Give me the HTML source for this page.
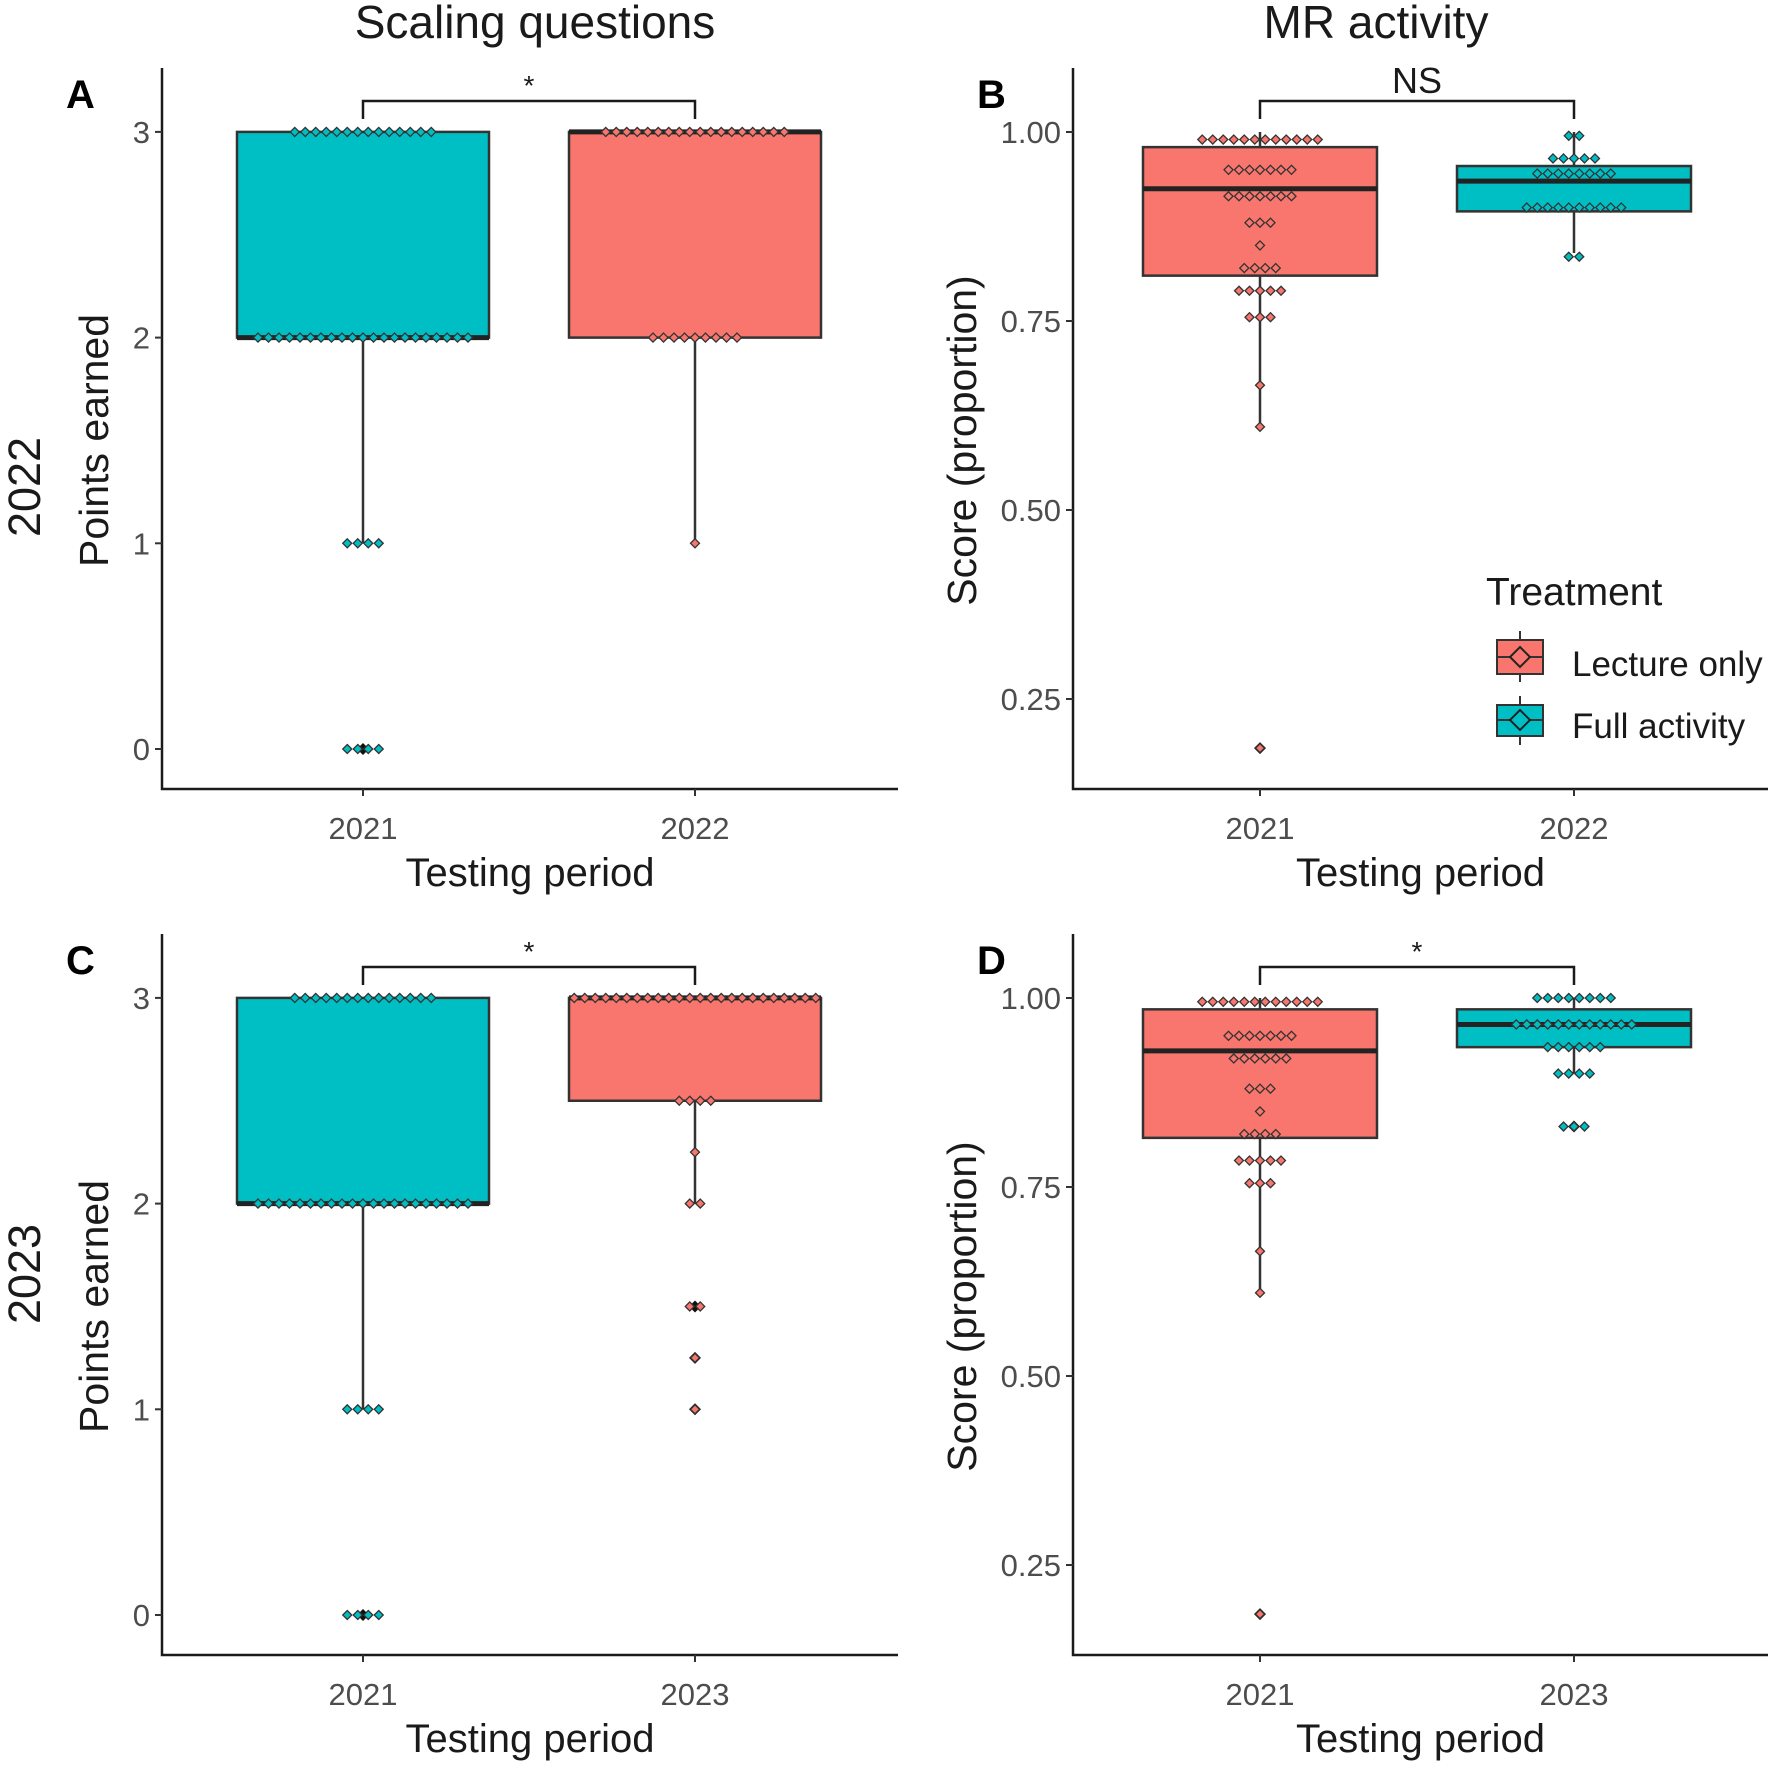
<!DOCTYPE html>
<html><head><meta charset="utf-8"><style>
html,body{margin:0;padding:0;background:#fff}
svg{display:block}
text{font-family:"Liberation Sans",Arial,sans-serif}
</style></head><body>
<svg id="fig" width="1772" height="1765" viewBox="0 0 1772 1765" xmlns="http://www.w3.org/2000/svg">
<text x="535" y="38" font-size="46" text-anchor="middle" fill="#1a1a1a">Scaling questions</text>
<text x="1376" y="38" font-size="46" text-anchor="middle" fill="#1a1a1a">MR activity</text>
<text transform="translate(40,487) rotate(-90)" font-size="45" text-anchor="middle" fill="#1a1a1a">2022</text>
<text transform="translate(40,1274) rotate(-90)" font-size="45" text-anchor="middle" fill="#1a1a1a">2023</text>
<g id="legend">
<text x="1486" y="605" font-size="39" fill="#1a1a1a">Treatment</text>
<g>
<line x1="1520" y1="631" x2="1520" y2="682" stroke="#333" stroke-width="2"/>
<rect x="1497" y="640" width="46" height="34" fill="#F8766D" stroke="#333" stroke-width="2"/>
<line x1="1497" y1="657" x2="1543" y2="657" stroke="#333" stroke-width="2"/>
<path d="M1520 647 L1530 657 L1520 667 L1510 657 Z" fill="#F8766D" stroke="#222" stroke-width="2"/>
<text x="1572" y="676" font-size="35" fill="#1a1a1a">Lecture only</text></g>
<g>
<line x1="1520" y1="696" x2="1520" y2="745" stroke="#333" stroke-width="2"/>
<rect x="1497" y="705" width="46" height="31" fill="#00BFC4" stroke="#333" stroke-width="2"/>
<line x1="1497" y1="720" x2="1543" y2="720" stroke="#333" stroke-width="2"/>
<path d="M1520 710 L1530 720 L1520 730 L1510 720 Z" fill="#00BFC4" stroke="#222" stroke-width="2"/>
<text x="1572" y="738" font-size="35" fill="#1a1a1a">Full activity</text></g>
</g>
</svg>
<script>
// ---- data ----
const panelLetters = ["A","B","C","D"];
const catsA = ["2021","2022"];
const catsB = ["2021","2022"];
const catsC = ["2021","2023"];
const catsD = ["2021","2023"];
const ticksPoints = [0,1,2,3];
const ticksScore = [0.25,0.50,0.75,1.00];
const sigLabels = ["*","NS","*","*"];
// box stats: [lowWhisker, q1, median, q3, highWhisker]
const boxA = [[1,2,2,3,3],[1,2,3,3,3]];
const boxB = [[0.61,0.81,0.925,0.98,1.0],[0.84,0.895,0.935,0.955,1.0]];
const boxC = [[1,2,2,3,3],[2,2.5,3,3,3]];
const boxD = [[0.61,0.815,0.93,0.985,1.0],[0.9,0.935,0.965,0.985,1.0]];
// dot values and counts per group
const dotValsA1 = [3,2,1,0];           const dotCntA1 = [14,21,4,4];
const dotValsA2 = [3,2,1];             const dotCntA2 = [18,9,1];
const dotValsB1 = [0.99,0.95,0.915,0.88,0.85,0.82,0.79,0.755,0.665,0.61,0.185]; const dotCntB1 = [12,7,7,3,1,4,5,3,1,1,1];
const dotValsB2 = [0.995,0.965,0.945,0.9,0.835]; const dotCntB2 = [2,5,8,10,2];
const dotValsC1 = [3,2,1,0];           const dotCntC1 = [14,21,4,4];
const dotValsC2 = [3,2.5,2.25,2,1.5,1.25,1]; const dotCntC2 = [24,4,1,2,2,1,1];
const dotValsD1 = [0.995,0.95,0.92,0.88,0.85,0.82,0.785,0.755,0.665,0.61,0.185]; const dotCntD1 = [12,7,6,3,1,4,5,3,1,1,1];
const dotValsD2 = [1.0,0.965,0.935,0.9,0.83]; const dotCntD2 = [8,12,6,4,3];
const outA = [[0],[]], outB=[[0.185],[]], outC=[[0],[1.5,1.25,1]], outD=[[0.185],[0.83]];

const NS="http://www.w3.org/2000/svg";
const svg=document.getElementById('fig');
function mk(tag,attrs,parent){const e=document.createElementNS(NS,tag);for(const k in attrs)e.setAttribute(k,attrs[k]);(parent||svg).appendChild(e);return e;}
const COLS=["#00BFC4","#F8766D"];
function panel(cfg){
  const g=mk('g',{});
  
  
  const y=v=>cfg.y0+(v-cfg.v0)*cfg.k;
  const xs=cfg.xc;
  const ax=mk('path',{d:`M${cfg.ax} ${cfg.top} V${cfg.bot} H${cfg.right}`,fill:'none',stroke:'#1a1a1a','stroke-width':2.5},g);
  
  
  cfg.ticks.forEach(t=>{
    mk('line',{x1:cfg.ax-7,x2:cfg.ax,y1:y(t),y2:y(t),stroke:'#333','stroke-width':2},g);
    const tl=mk('text',{x:cfg.ax-12,y:y(t)+11,'font-size':31,'text-anchor':'end',fill:'#4d4d4d'},g);
    tl.textContent=cfg.fmt(t);
    
    
  });
  cfg.cats.forEach((c,i)=>{
    mk('line',{x1:xs[i],x2:xs[i],y1:cfg.bot,y2:cfg.bot+7,stroke:'#333','stroke-width':2},g);
    const tl=mk('text',{x:xs[i],y:cfg.bot+50,'font-size':31,'text-anchor':'middle',fill:'#4d4d4d'},g);
    tl.textContent=c;
    
    
  });
  const xt=mk('text',{x:(cfg.ax+cfg.right)/2,y:cfg.bot+97,'font-size':40,'text-anchor':'middle',fill:'#1a1a1a'},g);
  xt.textContent='Testing period';
  
  
  const yt=mk('text',{transform:`translate(${cfg.ylabX},${(cfg.top+cfg.bot)/2+12}) rotate(-90)`,'font-size':41,'text-anchor':'middle',fill:'#1a1a1a'},g);
  yt.textContent=cfg.ylab;
  
  
  const pl=mk('text',{x:cfg.ax-96,y:cfg.top+40,'font-size':40,'font-weight':'bold',fill:'#000'},g);
  pl.textContent=cfg.letter;
  
  
  cfg.box.forEach((b,i)=>{
    const col=cfg.colors[i], hw=cfg.hw;
    mk('line',{x1:xs[i],x2:xs[i],y1:y(b[0]),y2:y(b[4]),stroke:'#333','stroke-width':2.5},g);
    const r=mk('rect',{x:xs[i]-hw,y:y(b[3]),width:2*hw,height:y(b[1])-y(b[3]),fill:col,stroke:'#333','stroke-width':2.5},g);
    
    
    mk('line',{x1:xs[i]-hw,x2:xs[i]+hw,y1:y(b[2]),y2:y(b[2]),stroke:'#222','stroke-width':5},g);
    cfg.out[i].forEach(o=>{
      const c=mk('path',{d:`M${xs[i]} ${y(o)-6} L${xs[i]+6} ${y(o)} L${xs[i]} ${y(o)+6} L${xs[i]-6} ${y(o)} Z`,fill:'#111'},g);
      
      
    });
    const vals=cfg.dv[i], cnts=cfg.dc[i];
    vals.forEach((v,j)=>{
      const n=cnts[j], sp=10.5;
      for(let m=0;m<n;m++){
        const cx=xs[i]+(m-(n-1)/2)*sp, cy=y(v);
        const d=mk('path',{d:`M${cx} ${cy-4.5} L${cx+4.5} ${cy} L${cx} ${cy+4.5} L${cx-4.5} ${cy} Z`,fill:col,stroke:'#333','stroke-width':1.3},g);
        
        
      }
    });
  });
  const by=cfg.top+33;
  const br=mk('path',{d:`M${xs[0]} ${by+18} V${by} H${xs[1]} V${by+18}`,fill:'none',stroke:'#1a1a1a','stroke-width':2.5},g);
  
  
  const sl=mk('text',{x:(xs[0]+xs[1])/2,y:by-(cfg.sig==='NS'?8:6),'font-size':cfg.sig==='NS'?36:28,'text-anchor':'middle',fill:'#1a1a1a'},g);
  sl.textContent=cfg.sig;
  
  
}
const off=866;
const fmtP=t=>String(t), fmtS=t=>t.toFixed(2);
panel({letter:panelLetters[0],cats:catsA,box:boxA,dv:[dotValsA1,dotValsA2],dc:[dotCntA1,dotCntA2],out:outA,colors:COLS,ax:162,right:898,top:68,bot:789,xc:[363,695],hw:126,y0:749,v0:0,k:-205.7,ticks:ticksPoints,fmt:fmtP,ylab:'Points earned',ylabX:108,sig:sigLabels[0]});
panel({letter:panelLetters[1],cats:catsB,box:boxB,dv:[dotValsB1,dotValsB2],dc:[dotCntB1,dotCntB2],out:outB,colors:[COLS[1],COLS[0]],ax:1073,right:1768,top:68,bot:789,xc:[1260,1574],hw:117,y0:132,v0:1,k:-756,ticks:ticksScore,fmt:fmtS,ylab:'Score (proportion)',ylabX:976,sig:sigLabels[1]});
panel({letter:panelLetters[2],cats:catsC,box:boxC,dv:[dotValsC1,dotValsC2],dc:[dotCntC1,dotCntC2],out:outC,colors:COLS,ax:162,right:898,top:68+off,bot:789+off,xc:[363,695],hw:126,y0:749+off,v0:0,k:-205.7,ticks:ticksPoints,fmt:fmtP,ylab:'Points earned',ylabX:108,sig:sigLabels[2]});
panel({letter:panelLetters[3],cats:catsD,box:boxD,dv:[dotValsD1,dotValsD2],dc:[dotCntD1,dotCntD2],out:outD,colors:[COLS[1],COLS[0]],ax:1073,right:1768,top:68+off,bot:789+off,xc:[1260,1574],hw:117,y0:132+off,v0:1,k:-756,ticks:ticksScore,fmt:fmtS,ylab:'Score (proportion)',ylabX:976,sig:sigLabels[3]});
svg.appendChild(document.getElementById('legend'));
</script>
</body></html>
